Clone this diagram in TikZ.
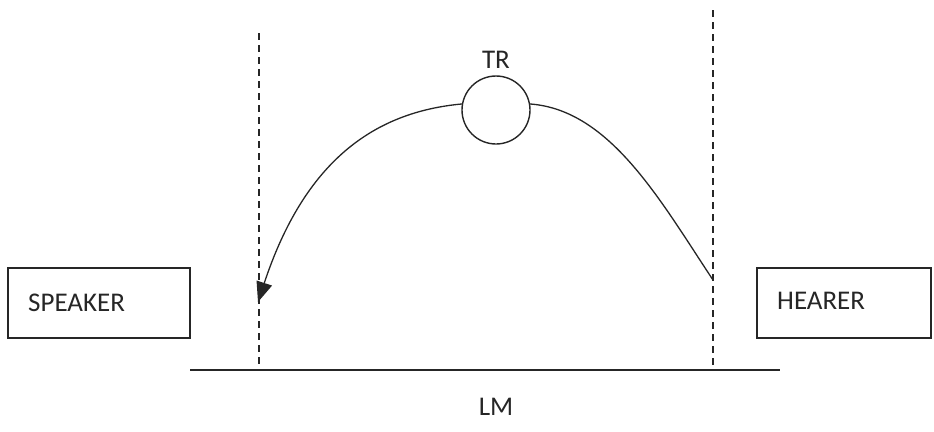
\documentclass[tikz,border=0pt]{standalone}
\usepackage{fontspec}
\setmainfont{Carlito}
\usetikzlibrary{arrows.meta}
\begin{document}
\begin{tikzpicture}[x=1pt,y=-1pt,
  lbl/.style={font=\fontsize{27}{30}\selectfont, text=black!85, inner sep=0pt},
  role/.style={draw=black!85, line width=1.3pt, minimum height=70pt, inner sep=0pt},
  guide/.style={draw=black!85, line width=1.4pt, dash pattern=on 7pt off 5pt},
  path/.style={draw=black!85, line width=1.3pt}]
\useasboundingbox (0,0) rectangle (934,431);
\node[role, minimum width=182pt] (spk) at (99,303) {};
\node[lbl, anchor=west] (spkt) at (28,303) {SPEAKER};
\node[role, minimum width=174pt] (hear) at (844,303) {};
\node[lbl, anchor=west] (heart) at (777,301) {HEARER};
\node[draw=black!85, circle, line width=1.4pt, minimum size=68pt, inner sep=0pt] (tr) at (496,110) {};
\node[lbl] (trt) at (496,60) {TR};
\node[lbl] (lm) at (496,407) {LM};
\coordinate (lt) at (259,33);
\coordinate (lb) at (259,370);
\coordinate (rt) at (713,10);
\coordinate (rb) at (713,370);
\coordinate (gl) at (190,370);
\coordinate (gr) at (780,370);
\coordinate (aend) at (258,302);
\coordinate (bend) at (713,280);
\draw[guide] (lt) -- (lb);
\draw[guide] (rt) -- (rb);
\draw[path] (gl) -- (gr);
\draw[path, -{Triangle[length=20pt,width=16pt]}] (tr.170) .. controls (375,112) and (305,160) .. (aend);
\draw[path] (tr.10) .. controls (610,110) and (660,200) .. (bend);
\end{tikzpicture}
\end{document}
